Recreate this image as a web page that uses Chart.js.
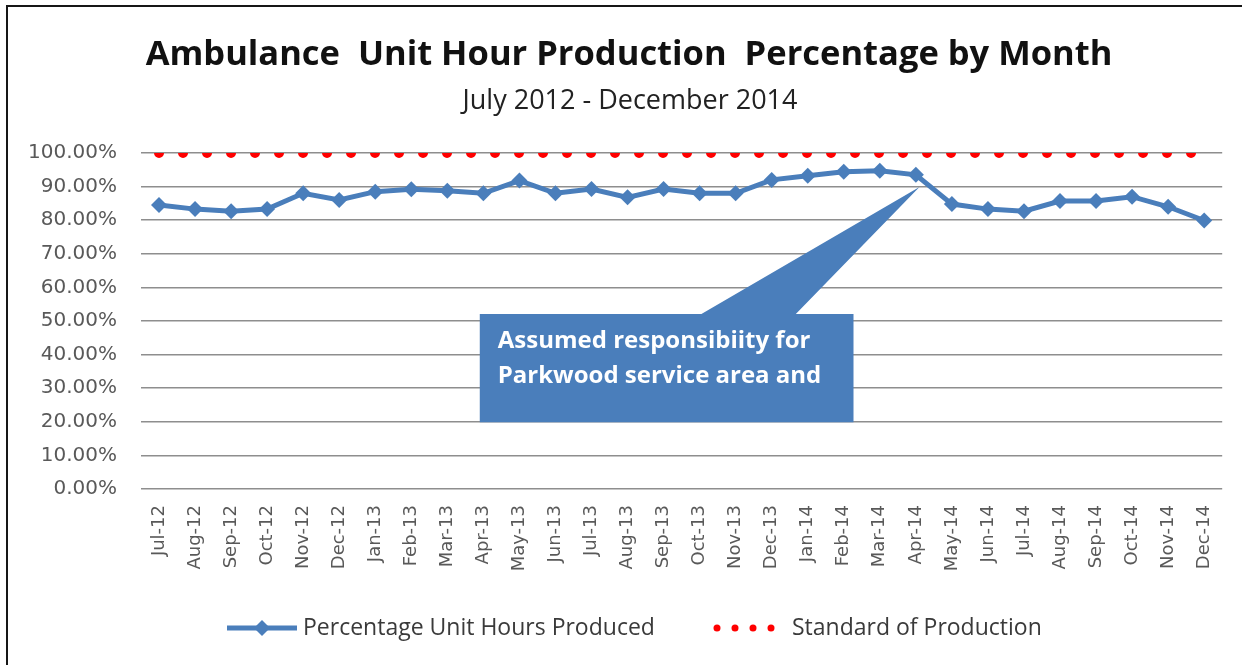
<!DOCTYPE html>
<html>
<head>
<meta charset="utf-8">
<script src="https://cdn.jsdelivr.net/npm/chart.js@4.4.0/dist/chart.umd.min.js"></script>
<style>
  body { margin: 0; background: #fff; overflow: hidden; }
  #wrap { position: relative; width: 1242px; height: 665px; }
  #frame { position: absolute; left: 6px; top: 5px; width: 1300px; height: 700px; border: 2px solid #161616; box-sizing: border-box; }
  canvas { position: absolute; left: 0; top: 0; }
</style>
</head>
<body>
<div id="wrap">
  <div id="frame"></div>
  <canvas id="chart" width="1242" height="665"></canvas>
</div>
<script>
const months = ['Jul-12', 'Aug-12', 'Sep-12', 'Oct-12', 'Nov-12', 'Dec-12',
  'Jan-13', 'Feb-13', 'Mar-13', 'Apr-13', 'May-13', 'Jun-13',
  'Jul-13', 'Aug-13', 'Sep-13', 'Oct-13', 'Nov-13', 'Dec-13',
  'Jan-14', 'Feb-14', 'Mar-14', 'Apr-14', 'May-14', 'Jun-14',
  'Jul-14', 'Aug-14', 'Sep-14', 'Oct-14', 'Nov-14', 'Dec-14'];

const unitHoursProduced = [84.5, 83.3, 82.7, 83.3, 88.0, 86.0,
  88.5, 89.2, 88.8, 88.0, 91.8, 88.0,
  89.3, 86.8, 89.3, 88.0, 88.0, 92.0,
  93.2, 94.4, 94.7, 93.5, 84.8, 83.3,
  82.7, 85.7, 85.7, 87.0, 84.0, 79.9];

const standardOfProduction = [100, 100, 100, 100, 100, 100,
  100, 100, 100, 100, 100, 100,
  100, 100, 100, 100, 100, 100,
  100, 100, 100, 100, 100, 100,
  100, 100, 100, 100, 100, 100];

const yTicks = [0, 10, 20, 30, 40, 50, 60, 70, 80, 90, 100];

const titleText = 'Ambulance  Unit Hour Production  Percentage by Month';
const subtitleText = 'July 2012 - December 2014';
const calloutLines = ['Assumed responsibiity for', 'Parkwood service area and'];
const seriesNames = ['Percentage Unit Hours Produced', 'Standard of Production'];

// callout shape in chart units (category index, percent)
const calloutBox = { x0: 8.9, x1: 19.27, y0: 52.1, y1: 19.9 };
const calloutPointer = { base0: 15.05, base1: 17.67, tipX: 21.1, tipY: 89.9 };

const blue = '#4a7ebb';
const red = '#ff0000';

// the standard line is cut at the top of the plot, like the original
const clipPlugin = {
  id: 'clipStandard',
  beforeDatasetDraw(chart, args) {
    if (args.index !== 1) return;
    const a = chart.chartArea;
    chart.ctx.save();
    chart.ctx.beginPath();
    chart.ctx.rect(a.left - 10, a.top, a.right - a.left + 20, a.bottom - a.top);
    chart.ctx.clip();
  },
  afterDatasetDraw(chart, args) {
    if (args.index !== 1) return;
    chart.ctx.restore();
  }
};

const decorPlugin = {
  id: 'decor',
  afterDraw(chart) {
    const ctx = chart.ctx;
    const xs = chart.scales.x, ys = chart.scales.y;
    const px = v => xs.left + (v + 0.5) * (xs.right - xs.left) / months.length;

    // callout
    const bx0 = px(calloutBox.x0), bx1 = px(calloutBox.x1);
    const by0 = ys.getPixelForValue(calloutBox.y0), by1 = ys.getPixelForValue(calloutBox.y1);
    ctx.save();
    ctx.fillStyle = blue;
    ctx.beginPath();
    ctx.moveTo(bx0, by0);
    ctx.lineTo(px(calloutPointer.base0), by0);
    ctx.lineTo(px(calloutPointer.tipX), ys.getPixelForValue(calloutPointer.tipY));
    ctx.lineTo(px(calloutPointer.base1), by0);
    ctx.lineTo(bx1, by0);
    ctx.lineTo(bx1, by1);
    ctx.lineTo(bx0, by1);
    ctx.closePath();
    ctx.fill();
    ctx.fillStyle = '#ffffff';
    ctx.font = 'bold 24px "Open Sans"';
    ctx.textBaseline = 'middle';
    ctx.textAlign = 'left';
    calloutLines.forEach((t, i) => ctx.fillText(t, bx0 + 18, by0 + 27 + i * 35));

    // titles
    ctx.fillStyle = '#111111';
    ctx.textAlign = 'center';
    ctx.font = 'bold 34.5px "Open Sans"';
    ctx.fillText(titleText, 629, 55);
    ctx.fillStyle = '#222222';
    ctx.font = '27px "Open Sans"';
    ctx.fillText(subtitleText, 630, 101);

    // legend
    const ly = 628;
    ctx.strokeStyle = blue;
    ctx.lineWidth = 5;
    ctx.beginPath();
    ctx.moveTo(227, ly);
    ctx.lineTo(297, ly);
    ctx.stroke();
    ctx.fillStyle = blue;
    ctx.beginPath();
    ctx.moveTo(262, ly - 8);
    ctx.lineTo(270, ly);
    ctx.lineTo(262, ly + 8);
    ctx.lineTo(254, ly);
    ctx.closePath();
    ctx.fill();
    ctx.fillStyle = red;
    [717, 735, 753, 771].forEach(x => {
      ctx.beginPath();
      ctx.arc(x, ly, 3.5, 0, Math.PI * 2);
      ctx.fill();
    });
    ctx.fillStyle = '#3a3a3a';
    ctx.font = '23px "Open Sans"';
    ctx.textAlign = 'left';
    ctx.fillText(seriesNames[0], 303, ly);
    ctx.fillText(seriesNames[1], 792, ly);
    ctx.restore();
  }
};

new Chart(document.getElementById('chart'), {
  type: 'line',
  data: {
    labels: months,
    datasets: [
      {
        label: seriesNames[0],
        data: unitHoursProduced,
        borderColor: blue,
        backgroundColor: blue,
        borderWidth: 5,
        pointStyle: 'rectRot',
        pointRadius: 8,
        pointBorderWidth: 0,
        tension: 0
      },
      {
        label: seriesNames[1],
        data: standardOfProduction,
        borderColor: red,
        borderWidth: 10,
        borderDash: [0, 24],
        borderCapStyle: 'round',
        pointRadius: 0
      }
    ]
  },
  options: {
    responsive: false,
    animation: false,
    layout: { padding: { top: 153, right: 14, left: 0, bottom: 0 } },
    plugins: { legend: { display: false }, tooltip: { enabled: false } },
    scales: {
      x: {
        offset: true,
        grid: { display: false, drawTicks: false },
        border: { display: false },
        ticks: {
          autoSkip: false, minRotation: 90, maxRotation: 90, padding: 16,
          color: '#595959', font: { family: 'DejaVu Sans', size: 18 }
        },
        afterFit(scale) { scale.height = 176; }
      },
      y: {
        min: 0, max: 100,
        afterBuildTicks(scale) { scale.ticks = yTicks.map(v => ({ value: v })); },
        grid: { color: '#8e8e8e', lineWidth: 1.5, drawTicks: false },
        border: { display: false },
        ticks: {
          padding: 24, color: '#595959', font: { family: 'DejaVu Sans', size: 20 },
          callback: v => v.toFixed(2) + '%'
        },
        afterFit(scale) { scale.width = 141; }
      }
    }
  },
  plugins: [clipPlugin, decorPlugin]
});
</script>
</body>
</html>
